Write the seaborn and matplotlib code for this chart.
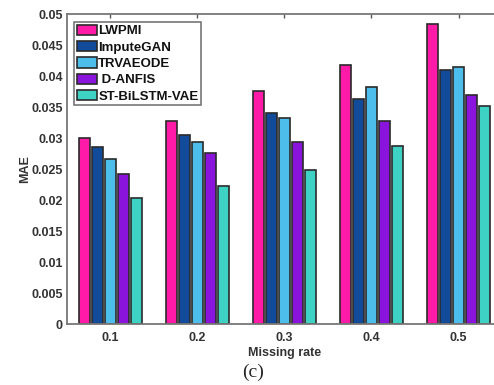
import matplotlib
matplotlib.use("Agg")
import matplotlib.pyplot as plt
import pandas as pd
import seaborn as sns

# Data.
missing_rates = ["0.1", "0.2", "0.3", "0.4", "0.5"]
methods = ["LWPMI", "ImputeGAN", "TRVAEODE", " D-ANFIS", "ST-BiLSTM-VAE"]
lwpmi = [0.0300, 0.0327, 0.0376, 0.0418, 0.0484]
imputegan = [0.0286, 0.0305, 0.0341, 0.0363, 0.0410]
trvaeode = [0.0266, 0.0294, 0.0332, 0.0382, 0.0415]
danfis = [0.0242, 0.0276, 0.0294, 0.0327, 0.0369]
st_bilstm_vae = [0.0204, 0.0223, 0.0248, 0.0287, 0.0352]

colors = ["#FF1AA8", "#134B9B", "#4DBEEC", "#8B14DC", "#3ED2C5"]

# Long-form table for seaborn.
series = [lwpmi, imputegan, trvaeode, danfis, st_bilstm_vae]
rows = []
for method, values in zip(methods, series):
    for rate, value in zip(missing_rates, values):
        rows.append({"rate": rate, "method": method, "mae": value})
df = pd.DataFrame(rows)

sns.set_style("white")
plt.rcParams["font.family"] = ["Liberation Sans", "DejaVu Sans"]
plt.rcParams["font.weight"] = "bold"

fig = plt.figure(figsize=(4.94, 3.85), dpi=100)
ax = fig.add_axes([0.1356, 0.1584, 0.8806, 0.805])

sns.barplot(
    data=df,
    x="rate",
    y="mae",
    hue="method",
    order=missing_rates,
    hue_order=methods,
    palette=dict(zip(methods, colors)),
    saturation=1,
    width=0.75,
    gap=0.2,
    edgecolor="#2a2a2a",
    linewidth=1.2,
    ax=ax,
)

ax.set_xlim(-0.5, 4.5)
ax.set_ylim(0, 0.05)
ax.set_yticks([0, 0.005, 0.01, 0.015, 0.02, 0.025, 0.03, 0.035, 0.04, 0.045, 0.05])
ax.set_yticklabels(["0", "0.005", "0.01", "0.015", "0.02", "0.025", "0.03",
                    "0.035", "0.04", "0.045", "0.05"])

for side in ["left", "bottom", "top", "right"]:
    ax.spines[side].set_color("#777777")
    ax.spines[side].set_linewidth(1.3)
ax.tick_params(axis="both", direction="in", length=3, width=1, color="#555555",
               labelsize=9, labelcolor="#333333", top=True, pad=3)
ax.tick_params(axis="x", pad=6)
for label in ax.get_xticklabels() + ax.get_yticklabels():
    label.set_fontweight("bold")

ax.set_xlabel("Missing rate", fontsize=9, fontweight="bold", color="#333333", labelpad=2)
ax.set_ylabel("MAE", fontsize=9, fontweight="bold", color="#333333", labelpad=0)

leg = ax.legend(
    loc="upper left",
    bbox_to_anchor=(0.016, 0.974),
    borderaxespad=0,
    fancybox=False,
    frameon=True,
    prop={"weight": "bold", "size": 9.5},
    handlelength=1.55,
    handleheight=0.8,
    handletextpad=0.1,
    labelspacing=0.28,
    borderpad=0.2,
)
leg.get_frame().set_edgecolor("#555555")
leg.get_frame().set_linewidth(1.2)
for text in leg.get_texts():
    text.set_color("#111111")

fig.text(0.512, 0.034, "(c)", ha="center", va="center",
         fontsize=14, family=["Liberation Serif", "DejaVu Serif"], fontweight="normal")

fig.savefig("out.png", dpi=100)
